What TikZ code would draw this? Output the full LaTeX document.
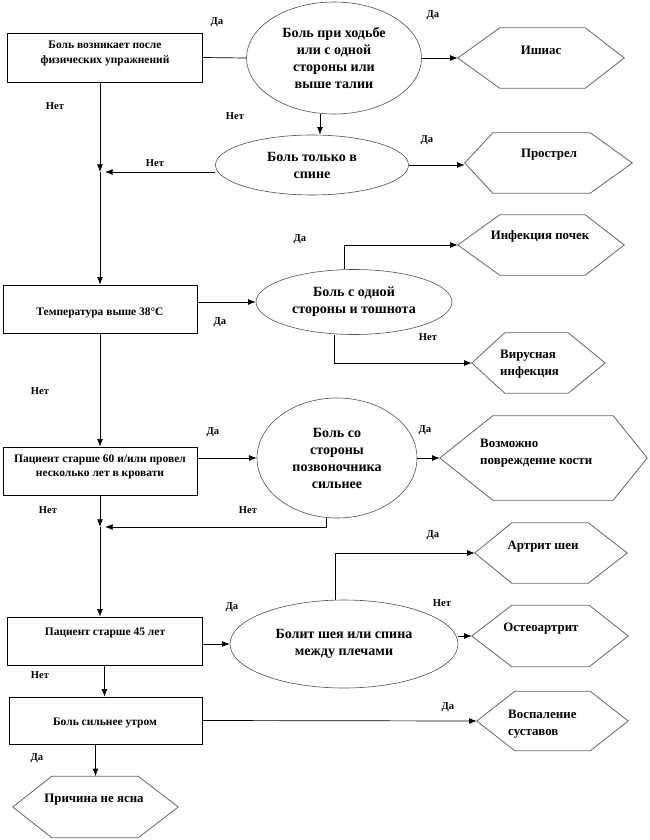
\documentclass[tikz,border=0pt]{standalone}
\usepackage{fontspec}
\setmainfont{Liberation Serif}
\usetikzlibrary{shapes.geometric,arrows.meta}
\newcommand{\unitpx}{0.03cm}
% hexagon frame round an empty node: node, left inset, right inset
\newcommand{\hexframe}[3]{%
  \draw[hexline] (#1.west) -- ([xshift=#2*\unitpx]#1.north west) -- ([xshift=-#3*\unitpx]#1.north east) -- (#1.east)
    -- ([xshift=-#3*\unitpx]#1.south east) -- ([xshift=#2*\unitpx]#1.south west) -- cycle;}

\begin{document}
\begin{tikzpicture}[x=0.03cm, y=-0.03cm]
    \tikzset{box/.style = {draw, rectangle, inner sep = 0pt, line width = .6pt},
      hexa/.style = {rectangle, inner sep = 0pt},
      hexline/.style = {draw = black!60, line width = .7pt},
      oval/.style = {draw = black!70, ellipse, inner sep = 0pt, line width = .5pt, align = center,
        font = \bfseries\fontsize{12}{14.5}\selectfont},
      txt/.style = {inner sep = 0pt, align = center, font = \bfseries\fontsize{9.8}{12}\selectfont},
      htxt/.style = {inner sep = 0pt, align = center, font = \bfseries\fontsize{11}{14}\selectfont},
      lab/.style = {inner sep = 0pt, font = \bfseries\fontsize{9}{10}\selectfont},
      arr/.style = {-{Latex[length = 6.5pt, width = 5pt]}, line width = .6pt},
      ln/.style = {line width = .6pt}}
    \useasboundingbox (0,0) rectangle (650,840);
    % left column:
    \node[box, minimum width = 195*\unitpx, minimum height = 49*\unitpx] (b1) at (104.5,57.5){};
    \node[box, minimum width = 194*\unitpx, minimum height = 48*\unitpx] (b2) at (100,309){};
    \node[box, minimum width = 194*\unitpx, minimum height = 48*\unitpx] (b3) at (100,471){};
    \node[box, minimum width = 195*\unitpx, minimum height = 48*\unitpx] (b4) at (104.5,641){};
    \node[box, minimum width = 193*\unitpx, minimum height = 47*\unitpx] (b5) at (105.5,720.5){};
    \node[txt] (b1t) at (105,53.5){Боль возникает после\\физических упражнений};
    \node[txt] (b2t) at (100,313){Температура выше 38°C};
    \node[txt] (b3t) at (100,467){Пациент старше 60 и/или провел\\несколько лет в кровати};
    \node[txt] (b4t) at (105,633){Пациент старше 45 лет};
    \node[txt] (b5t) at (105,723){Боль сильнее утром};
    % questions:
    \node[oval, minimum width = 175*\unitpx, minimum height = 112*\unitpx] (e1) at (334,58)
      {Боль при ходьбе\\или с одной\\стороны или\\выше талии};
    \node[oval, minimum width = 193*\unitpx, minimum height = 60*\unitpx] (e2) at (312,165)
      {Боль только в\\спине};
    \node[oval, minimum width = 196*\unitpx, minimum height = 65*\unitpx] (e3) at (354,302)
      {Боль с одной\\стороны и тошнота};
    \node[oval, minimum width = 160*\unitpx, minimum height = 120*\unitpx] (e4) at (337,458)
      {Боль со\\стороны\\позвоночника\\сильнее};
    \node[oval, minimum width = 228*\unitpx, minimum height = 88*\unitpx] (e5) at (344,644)
      {Болит шея или спина\\между плечами};
    % answers:
    \node[hexa, minimum width = 166*\unitpx, minimum height = 60*\unitpx] (ishias) at (541,58){};
    \node[hexa, minimum width = 167*\unitpx, minimum height = 60*\unitpx] (prostrel) at (548.5,163){};
    \node[hexa, minimum width = 166*\unitpx, minimum height = 60*\unitpx] (pochki) at (541,245){};
    \node[hexa, minimum width = 133*\unitpx, minimum height = 60*\unitpx] (virus) at (538.5,363){};
    \node[hexa, minimum width = 207*\unitpx, minimum height = 84*\unitpx] (kost) at (543.5,458){};
    \node[hexa, minimum width = 152*\unitpx, minimum height = 60*\unitpx] (artrit) at (551,553){};
    \node[hexa, minimum width = 156*\unitpx, minimum height = 61*\unitpx] (osteo) at (550,636){};
    \node[hexa, minimum width = 151*\unitpx, minimum height = 59*\unitpx] (sustav) at (552.5,721){};
    \node[hexa, minimum width = 165*\unitpx, minimum height = 61*\unitpx] (prichina) at (95.5,807){};
    \hexframe{ishias}{42}{39} \hexframe{prostrel}{28}{42} \hexframe{pochki}{42}{39}
    \hexframe{virus}{33}{37} \hexframe{kost}{53}{34} \hexframe{artrit}{37}{39}
    \hexframe{osteo}{40}{39} \hexframe{sustav}{38}{38} \hexframe{prichina}{39}{40}
    \node[htxt] (ishiast) at (541,50){Ишиас};
    \node[htxt] (prostrelt) at (549,155){Прострел};
    \node[htxt] (pochkit) at (540,236){Инфекция почек};
    \node[htxt, anchor = west, align = left] (virust) at (500,364){Вирусная\\инфекция};
    \node[htxt, anchor = west, align = left] (kostt) at (480,453){Возможно\\повреждение кости};
    \node[htxt] (artritt) at (543,547){Артрит шеи};
    \node[htxt] (osteot) at (541,629){Остеоартрит};
    \node[htxt, anchor = west, align = left] (sustavt) at (508,724){Воспаление\\суставов};
    \node[htxt] (prichinat) at (94,800){Причина не ясна};
    % junctions:
    \coordinate (j1) at (100,172);
    \coordinate (j2) at (100,527);
    % lines:
    \draw[ln] (b1.east) -- (e1.west);
    \draw[arr] (e1.east) -- (ishias.west);
    \draw[arr] ([xshift = -14*\unitpx]e1.south) -- ([xshift = 8*\unitpx]e2.north);
    \draw[arr] (e2.east) -- (e2.east -| prostrel.west);
    \draw[arr] (b1.south -| j1) -- (j1);
    \draw[arr, shorten > = 1.5mm] (e2.west |- j1) -- (j1);
    \draw[arr] (j1) -- (b2.north);
    \draw[arr] (b2.east |- e3.west) -- (e3.west);
    \draw[arr] ([xshift = -10*\unitpx]e3.north) |- (pochki.west);
    \draw[arr] ([xshift = -20*\unitpx]e3.south) |- (virus.west);
    \draw[arr] (b2.south) -- (b3.north);
    \draw[arr] (b3.east |- e4.west) -- (e4.west);
    \draw[arr] (e4.east) -- (kost.west);
    \draw[arr, shorten > = 1.5mm] ([xshift = -11*\unitpx]e4.south) |- (j2);
    \draw[arr] (b3.south) -- (j2);
    \draw[arr] (j2) -- (b4.north -| j2);
    \draw[arr] (b4.east |- e5.west) -- (e5.west);
    \draw[arr] ([xshift = -9*\unitpx]e5.north) |- (artrit.west);
    \draw[arr] (e5.east |- osteo.west) -- (osteo.west);
    \draw[arr] (b4.south) -- (b4.south |- b5.north);
    \draw[arr] (b5.east) -- (sustav.west);
    \draw[arr] (b5.south -| prichina.north) -- (prichina.north);
    % yes / no:
    \foreach \p in {(217,22), (433,15), (427,140), (300,239), (220,322), (213,432), (425,430),
      (433,535), (232,607), (448,707), (37,758)}
      \node[lab] at \p {Да};
    \foreach \p in {(55,106), (235,116), (155,163), (428,337), (40,391), (48,510), (248,510),
      (442,603), (40,675)}
      \node[lab] at \p {Нет};
\end{tikzpicture}
\end{document}
